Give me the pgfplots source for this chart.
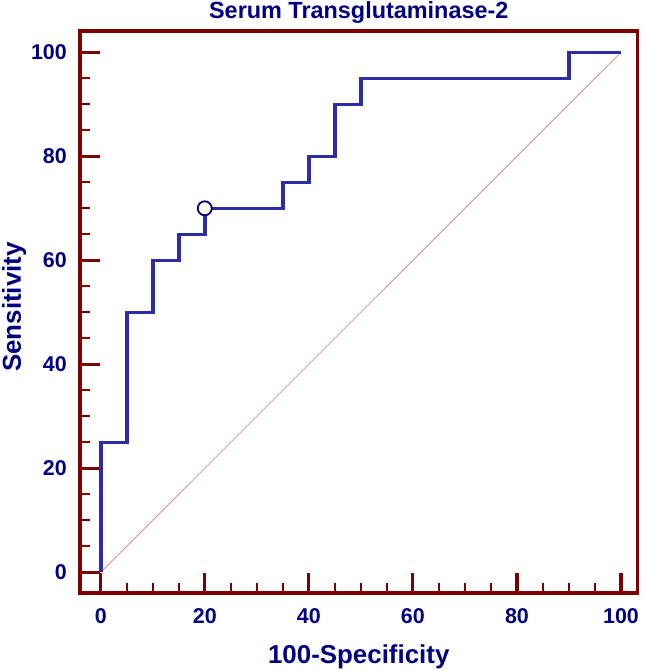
\documentclass[border=0pt]{standalone}
\usepackage{pgfplots}
\pgfplotsset{compat=1.18}
\usepackage{fontspec}
\setmainfont{Liberation Sans}
\definecolor{frame}{RGB}{128,0,0}
\definecolor{navytxt}{RGB}{0,0,128}
\definecolor{roc}{RGB}{45,45,165}
\definecolor{diag}{RGB}{222,140,140}
\begin{document}
\begin{tikzpicture}[x=1bp,y=1bp]
\useasboundingbox (-80,-77) rectangle (565,593);
\begin{axis}[
  at={(0,0)}, anchor=south west,
  scale only axis, width=557.5bp, height=562bp,
  xmin=-3.98, xmax=103.17, ymin=-3.98, ymax=104.1,
  axis line style={frame, line width=3.8bp},
  tick style={frame, line width=3.2bp},
  minor tick style={frame, line width=1.8bp},
  major tick length=20bp, minor tick length=10bp,
  tick align=inside,
  xtick={0,20,...,100}, ytick={0,20,...,100},
  minor xtick={5,10,15,25,30,35,45,50,55,65,70,75,85,90,95},
  minor ytick={5,10,15,25,30,35,45,50,55,65,70,75,85,90,95},
  xtick pos=bottom, ytick pos=left,
  ticklabel style={font=\fontsize{21.5}{25}\selectfont\bfseries, text=navytxt, inner sep=0pt},
  /pgf/number format/assume math mode=true,
  xticklabel style={anchor=north, yshift=-15bp},
  yticklabel style={anchor=east, xshift=-13bp},
  xlabel={100-Specificity}, ylabel={Sensitivity},
  every axis x label/.style={at={(axis description cs:0.5,0)}, anchor=base, yshift=-70bp,
     font=\fontsize{26}{30}\selectfont\bfseries, text=navytxt, inner sep=0pt},
  every axis y label/.style={at={(axis description cs:0,0.5)}, anchor=base, rotate=90, yshift=59bp, xshift=5bp,
     font=\fontsize{26}{30}\selectfont\bfseries, text=navytxt, inner sep=0pt},
  title={Serum Transglutaminase-2},
  every axis title/.style={font=\fontsize{23.5}{27}\selectfont\bfseries, text=navytxt, inner sep=0pt, at={(axis description cs:0.5,1)}, anchor=base, yshift=12.5bp},
  clip=false,
]
\addplot[diag, line width=0.8bp] coordinates {(0,0) (100,100)};
\addplot[roc, line width=3.6bp, line join=miter] coordinates {
(0,0) (0,25) (5,25) (5,50) (10,50) (10,60) (15,60) (15,65) (20,65) (20,70)
(35,70) (35,75) (40,75) (40,80) (45,80) (45,90) (50,90) (50,95) (90,95) (90,100) (100,100)};
\addplot[only marks, mark=*, mark size=7bp, mark options={fill=white, draw=navytxt, line width=1.8bp}] coordinates {(20,70)};
\end{axis}
\end{tikzpicture}
\end{document}
